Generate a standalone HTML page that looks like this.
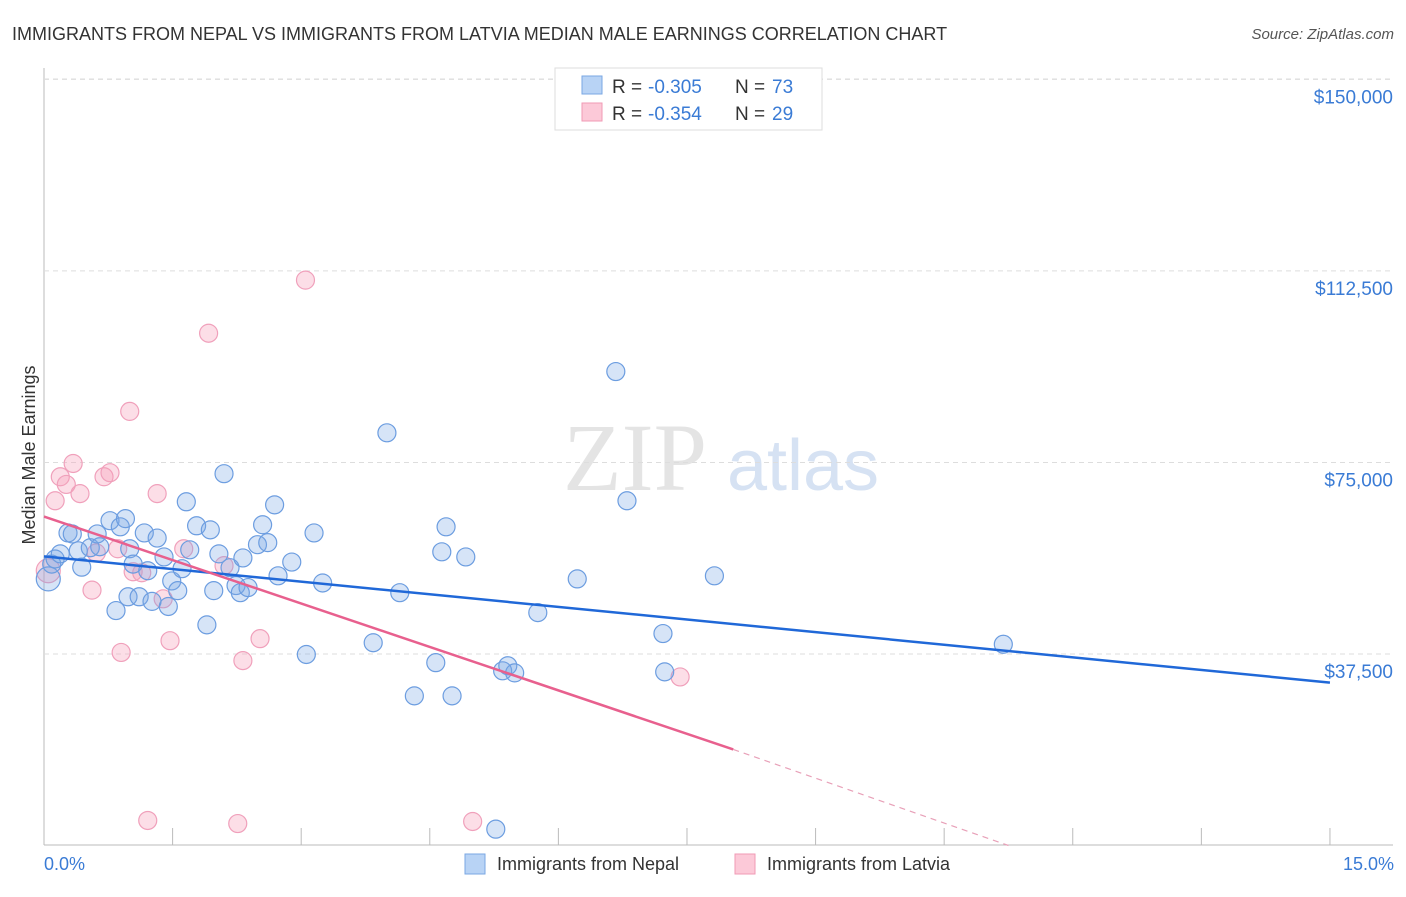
<!DOCTYPE html>
<html><head><meta charset="utf-8"><style>
body{margin:0;background:#fff;font-family:"Liberation Sans",sans-serif;}
svg text{font-family:"Liberation Sans",sans-serif;}
</style></head><body>
<svg id="c" width="1406" height="892" xmlns="http://www.w3.org/2000/svg">
<text x="12" y="40" font-size="18" fill="#333">IMMIGRANTS FROM NEPAL VS IMMIGRANTS FROM LATVIA MEDIAN MALE EARNINGS CORRELATION CHART</text>
<text x="1394" y="39" font-size="15" fill="#555" font-style="italic" text-anchor="end">Source: ZipAtlas.com</text>
<text x="635" y="490" font-size="96" fill="#e4e4e4" text-anchor="middle" style="font-family:'Liberation Serif',serif">ZIP</text>
<text x="803" y="490" font-size="72" fill="#d6e2f3" text-anchor="middle">atlas</text>
<g id="grid"></g><g id="pts"></g><g id="lines"></g>
<text x="35" y="455" font-size="18" fill="#333" text-anchor="middle" transform="rotate(-90 35 455)">Median Male Earnings</text>
<text x="44" y="870" font-size="18" fill="#3a7bd5">0.0%</text>
<text x="1394" y="870" font-size="18" fill="#3a7bd5" text-anchor="end">15.0%</text>
<g>
<rect x="555" y="68" width="267" height="62" fill="#fff" stroke="#ddd"/>
<rect x="582" y="76" width="20" height="18" fill="#b8d3f5" stroke="#7aa7e3"/>
<rect x="582" y="103" width="20" height="18" fill="#fcc9d8" stroke="#f09ab5"/>
<text x="612" y="93" font-size="19" fill="#333">R =</text><text x="648" y="93" font-size="19" fill="#3a7bd5">-0.305</text>
<text x="735" y="93" font-size="19" fill="#333">N =</text><text x="772" y="93" font-size="19" fill="#3a7bd5">73</text>
<text x="612" y="120" font-size="19" fill="#333">R =</text><text x="648" y="120" font-size="19" fill="#3a7bd5">-0.354</text>
<text x="735" y="120" font-size="19" fill="#333">N =</text><text x="772" y="120" font-size="19" fill="#3a7bd5">29</text>
</g>
<g>
<rect x="465" y="854" width="20" height="20" fill="#b8d3f5" stroke="#7aa7e3"/>
<text x="497" y="870" font-size="18" fill="#333">Immigrants from Nepal</text>
<rect x="735" y="854" width="20" height="20" fill="#fcc9d8" stroke="#f09ab5"/>
<text x="767" y="870" font-size="18" fill="#333">Immigrants from Latvia</text>
</g>
</svg>
<script>
const yTicks=[37500,75000,112500,150000];
const yTickLabels=["$37,500","$75,000","$112,500","$150,000"];
const xTicks=[0,1.5,3,4.5,6,7.5,9,10.5,12,13.5,15];
const nepalX=[0.05,0.09,0.13,0.19,0.28,0.33,0.40,0.44,0.54,0.62,0.65,0.77,0.84,0.89,0.95,0.98,1.00,1.04,1.11,1.17,1.21,1.26,1.32,1.40,1.45,1.49,1.56,1.61,1.66,1.70,1.78,1.90,1.94,1.98,2.04,2.10,2.17,2.24,2.29,2.32,2.38,2.49,2.55,2.61,2.69,2.73,2.89,3.06,3.15,3.25,3.84,4.00,4.15,4.32,4.57,4.64,4.69,4.76,4.92,5.27,5.35,5.41,5.49,5.76,6.22,6.67,6.80,7.22,7.24,7.82,11.19];
const nepalY=[52200,55100,56100,57100,61200,61000,57700,54500,58300,61000,58500,63600,46000,62400,64000,48700,58100,55100,48700,61200,53800,47800,60200,56500,46800,51800,49900,54200,67300,57900,62600,43200,61800,49900,57100,72800,54400,50900,49500,56300,50500,58900,62800,59300,66700,52800,55500,37400,61200,51400,39700,80800,49500,29300,35800,57500,62400,29300,56500,3200,34200,35200,33800,45600,52200,92800,67500,41500,34000,52800,39400];
const latviaX=[0.05,0.13,0.19,0.26,0.34,0.42,0.56,0.61,0.70,0.77,0.86,0.90,1.00,1.04,1.14,1.21,1.32,1.39,1.47,1.63,1.92,2.10,2.26,2.32,2.52,3.05,5.00,7.42];
const latviaY=[53800,67500,72200,70700,74800,68900,50000,57300,72200,73000,58100,37800,85000,53600,53400,4900,68900,48300,40100,58100,100300,54800,4300,36200,40500,110700,4700,33000];
const nepalTrend=[[0,56600],[15,31900]];
const latviaTrend=[[0,64400],[8.04,18800]];
const latviaDash=[[8.04,18800],[11.25,0]];
const X=v=>44+v*85.73, Y=v=>845.5-v/195.8;
const NS="http://www.w3.org/2000/svg";
function mk(p,t,a){const e=document.createElementNS(NS,t);for(const k in a)e.setAttribute(k,a[k]);document.getElementById(p).appendChild(e);return e;}
const ax=mk('grid','line',{x1:44,y1:68,x2:44,y2:845,stroke:'#bbb'});


const bx=mk('grid','line',{x1:44,y1:845,x2:1393,y2:845,stroke:'#bbb'});


const topGrid=mk('grid','line',{x1:44,y1:79,x2:1393,y2:79,stroke:'#ddd','stroke-dasharray':'5,4'});


yTicks.forEach((v,i)=>{const g=mk('grid','line',{x1:44,y1:Y(v),x2:1393,y2:Y(v),stroke:'#ddd','stroke-dasharray':'5,4'});


const t=mk('grid','text',{x:1393,y:Y(v)+24,'font-size':19,fill:'#3a7bd5','text-anchor':'end'});t.textContent=yTickLabels[i];

});
xTicks.forEach(v=>{const t=mk('grid','line',{x1:X(v),y1:828,x2:X(v),y2:845,stroke:'#bbb'});

});
function pts(xs,ys,f,s,n){xs.forEach((x,i)=>{const c=mk('pts','circle',{cx:X(x),cy:Y(ys[i]),r:i==0?12:9,fill:f,stroke:s,'stroke-width':1.2});

});}
pts(latviaX,latviaY,'rgba(245,160,185,0.35)','#f0a0bb','latvia-point');
pts(nepalX,nepalY,'rgba(120,165,230,0.3)','#6c9de0','nepal-point');
const l1=mk('lines','line',{x1:X(nepalTrend[0][0]),y1:Y(nepalTrend[0][1]),x2:X(nepalTrend[1][0]),y2:Y(nepalTrend[1][1]),stroke:'#2068d8','stroke-width':2.5});


const l2=mk('lines','line',{x1:X(latviaTrend[0][0]),y1:Y(latviaTrend[0][1]),x2:X(latviaTrend[1][0]),y2:Y(latviaTrend[1][1]),stroke:'#e8608e','stroke-width':2.5});


const l3=mk('lines','line',{x1:X(latviaDash[0][0]),y1:Y(latviaDash[0][1]),x2:X(latviaDash[1][0]),y2:Y(latviaDash[1][1]),stroke:'#e8a0b8','stroke-width':1.2,'stroke-dasharray':'6,5'});


</script>
</body></html>
